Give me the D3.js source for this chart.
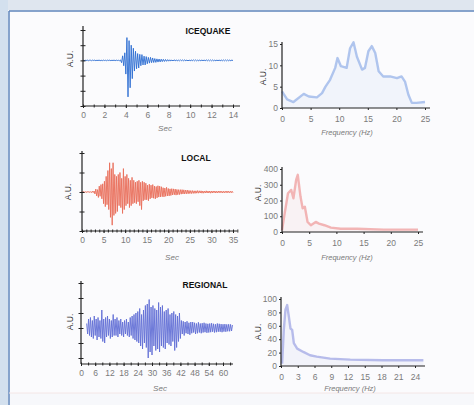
<!DOCTYPE html>
<html><head><meta charset="utf-8">
<script src="https://cdn.jsdelivr.net/npm/d3@7"></script>
<style>
html,body{margin:0;padding:0;background:#f7f8fb;}
svg{display:block;font-family:"Liberation Sans",Arial,sans-serif;}
</style></head>
<body><svg id="c" width="474" height="405"></svg>
<script>
// ---------- DATA ----------
const titles = ["ICEQUAKE", "LOCAL", "REGIONAL"];

const iceDt = 0.1;
const iceWave = [
 0.02,-0.02,0.01,-0.01,0.02,-0.02,0.01,0.01,-0.02,0.02,
 -0.01,0.02,-0.02,0.01,-0.01,0.02,-0.02,0.01,-0.02,0.02,
 -0.01,0.01,-0.02,0.02,-0.01,0.02,-0.02,0.01,-0.01,0.02,
 -0.02,0.02,-0.01,0.01,-0.02,0.03,
 -0.15,0.3,-0.35,0.5,-0.9,1.5,-2.4,1.3,-1.8,1.0,-1.2,0.8,-0.7,0.6,-0.55,
 0.45,-0.5,0.4,-0.35,0.38,-0.3,0.28,-0.3,0.25,-0.22,
 0.2,-0.18,0.2,-0.15,0.16,-0.14,0.12,-0.13,0.1,-0.11,
 0.09,-0.1,0.08,-0.08,0.07,-0.07,0.06,-0.06,0.05,-0.05,
 0.04,-0.04,0.03,-0.04,0.04,-0.03,0.03,-0.04,0.03,-0.03,
 0.04,-0.03,0.03,-0.03,0.04,-0.03,0.03,-0.04,0.03,-0.03,
 0.03,-0.03,0.04,-0.03,0.03,-0.03,0.03,-0.04,0.03,-0.03,
 0.03,-0.03,0.03,-0.03,0.04,-0.03,0.03,-0.03,0.03,-0.03,
 0.03,-0.03,0.03,-0.04,0.03,-0.03,0.03,-0.03,0.03,-0.03,
 0.03,-0.03,0.03,-0.03,0.03,-0.03,0.03,-0.03,0.03,-0.02
];

const localDt = 0.2;
const localWave = [
 0.03,-0.02,0.03,-0.03,0.02,-0.03,0.03,-0.02,0.03,-0.03,0.02,-0.03,0.04,-0.03,0.05,
 -0.1,0.15,-0.2,0.12,-0.28,0.3,-0.22,0.38,-0.35,0.42,
 -0.6,0.55,-0.75,0.8,-0.65,
 1.1,-0.9,1.5,-1.3,1.2,-1.7,1.5,-1.2,0.9,-1.1,
 0.8,-1.0,0.9,-0.7,1.0,-0.8,0.7,-1.1,1.2,-0.9,0.8,-0.7,0.9,-0.6,0.7,-0.8,0.6,-0.7,0.75,-0.6,
 0.6,-0.55,0.5,-0.6,0.55,-0.5,0.6,-0.7,0.5,-0.9,0.55,-0.45,0.5,-0.4,0.45,-0.4,0.35,-0.45,0.4,-0.35,
 0.35,-0.3,0.38,-0.32,0.3,-0.35,0.28,-0.3,0.32,-0.26,0.3,-0.25,0.27,-0.24,0.22,-0.25,0.2,-0.22,0.24,-0.2,
 0.18,-0.2,0.16,-0.18,0.17,-0.15,0.16,-0.14,0.15,-0.16,0.13,-0.14,0.12,-0.13,0.12,-0.11,0.12,-0.1,0.11,-0.1,0.1,-0.09,0.1,-0.09,0.08,
 -0.08,0.07,-0.08,0.07,-0.07,0.06,-0.07,0.06,-0.06,0.07,
 -0.06,0.06,-0.05,0.06,-0.06,0.05,-0.06,0.05,-0.05,0.06,
 -0.05,0.05,-0.05,0.05,-0.06,0.05,-0.05,0.05,-0.04,0.05,
 -0.05,0.04,-0.05,0.05,-0.04,0.05,-0.04,0.04,-0.05,0.04,
 -0.04,0.04,-0.04,0.05,-0.04,0.04,-0.04,0.04,-0.04,0.04,
 -0.04
];

const regDt = 0.4, regStart = 2.4;
const regWave = [
 0.3,-0.4,0.6,-0.5,0.7,-0.6,0.5,-0.7,0.8,-0.5,
 0.6,-0.8,0.7,-0.6,0.5,-0.7,1.2,-0.9,0.6,-1.0,
 0.7,-0.6,0.8,-0.5,0.6,-0.7,0.5,-0.6,0.9,-0.5,
 0.6,-0.5,0.7,-0.6,0.5,-0.4,0.6,-0.5,0.4,-0.6,
 0.5,-0.4,0.6,-0.5,0.4,-0.6,0.7,-0.5,0.8,-0.7,
 0.9,-0.8,1.0,-0.9,1.1,
 -1.0,1.3,-1.2,0.9,-1.4,1.2,-1.0,1.5,-1.3,1.6,
 -2.0,1.9,-1.6,1.4,-1.8,1.5,-1.2,1.3,-1.5,1.2,
 -1.4,1.7,-1.6,1.4,-1.2,1.5,-1.3,1.1,-1.4,1.2,
 -1.0,1.3,-1.1,0.9,-1.2,1.0,-0.9,1.1,-1.5,0.9,
 -1.3,0.8,-0.9,1.0,-0.7,
 0.5,-0.4,0.45,-0.5,0.4,-0.35,0.45,-0.4,0.35,-0.45,
 0.4,-0.35,0.4,-0.3,0.35,-0.4,0.3,-0.35,0.38,-0.3,
 0.3,-0.35,0.32,-0.3,0.35,-0.28,0.3,-0.32,0.28,-0.3,
 0.3,-0.28,0.32,-0.25,0.28,-0.3,0.25,-0.28,0.3,-0.25,
 0.28,-0.25,0.26,-0.28,0.25,-0.24,0.26,-0.25,0.24,-0.22,
 0.25,-0.22,0.24,-0.2,0.2
];

const iceFreq = [0,0.9,2,3.8,4.7,6.1,7,7.6,8.4,9.3,9.7,10.3,11.3,11.9,12.5,13.1,14,14.5,15.1,15.7,16.3,16.9,17.7,18.9,20.1,20.9,21.5,22.1,22.7,23.5,25];
const iceSpec = [3.9,2,1.4,3.3,2.7,2.5,3.5,5,6.6,9.4,11.7,9.8,9.4,14,15.4,12,9,9.4,13.3,14.5,12.9,8.6,7.4,7.4,7,7.4,6.2,3.1,1.2,1.2,1.4];

const localFreq = [0,0.5,1.1,1.7,2.1,2.6,2.9,3.4,3.8,4.2,4.7,5.3,6.2,6.8,7.8,9,10.8,13.8,18.7,25];
const localSpec = [10,120,246,267,214,331,363,225,150,160,64,43,64,53,43,28,21,21,15,15];

const regFreq = [0.2,0.5,0.8,1.1,1.4,1.7,2.0,2.3,2.9,4,5.2,6.4,8.8,12.4,18.3,25.5];
const regSpec = [3.5,54,84,91,74,56,54,34,26,21,16,14,11,9.5,8.5,8.5];

const iceSecTicks = [0,2,4,6,8,10,12,14];
const localSecTicks = [0,5,10,15,20,25,30,35];
const regSecTicks = [0,6,12,18,24,30,36,42,48,54,60];
const iceFreqTicks = [0,5,10,15,20,25];
const localFreqTicks = [0,5,10,15,20,25];
const regFreqTicks = [0,3,6,9,12,15,18,21,24];
const iceAmpTicks = [0,5,10,15];
const localAmpTicks = [0,100,200,300,400];
const regAmpTicks = [0,20,40,60,80,100];

// ---------- DRAW ----------
const svg = d3.select("#c");
// photo frame
svg.append("rect").attr("x",0).attr("y",0).attr("width",474).attr("height",10).attr("fill","#dfe6ef");
svg.append("rect").attr("x",0).attr("y",0).attr("width",8).attr("height",405).attr("fill","#d3e0ee");
svg.append("rect").attr("x",9).attr("y",11).attr("width",470).attr("height",382).attr("fill","#fbfbfd");
svg.append("line").attr("x1",9).attr("x2",474).attr("y1",11).attr("y2",11).attr("stroke","#5f86bb").attr("stroke-width",1.5);
svg.append("line").attr("x1",9).attr("x2",9).attr("y1",11).attr("y2",405).attr("stroke","#5f86bb").attr("stroke-width",1.5);
svg.append("line").attr("x1",9).attr("x2",474).attr("y1",393).attr("y2",393).attr("stroke","#f4e6e6").attr("stroke-width",1);

const LABEL = "#7a7a7a";

function styleAxis(g){
  g.select(".domain").remove();
  g.selectAll(".tick line").attr("stroke","#222").attr("stroke-width",1);
  g.selectAll(".tick text").attr("fill",LABEL).attr("font-size","8.5px");
}

function wavePanel(cfg){
  const x = d3.scaleLinear().domain(cfg.xDomain).range(cfg.xRange);
  const y = d3.scaleLinear().domain(cfg.yDomain).range(cfg.yRange);
  const g = svg.append("g");
  const y0 = cfg.yRange[0];
  const line = d3.line().x((d,i)=>x(cfg.start + i*cfg.dt)).y(d=>y(d));
  g.append("path").datum(cfg.data).attr("d",line).attr("fill","none")
    .attr("stroke",cfg.color).attr("stroke-width",1).attr("stroke-linejoin","round").attr("opacity",0.92);
  g.append("line").attr("x1",cfg.xRange[0]).attr("x2",cfg.axisEnd).attr("y1",y0).attr("y2",y0).attr("stroke","#222").attr("stroke-width",1.2);
  g.append("line").attr("x1",cfg.xRange[0]).attr("x2",cfg.xRange[0]).attr("y1",y0).attr("y2",cfg.yTop).attr("stroke","#222").attr("stroke-width",1.2);
  const minor = d3.range(cfg.xDomain[0], cfg.maxMinor + 1e-9, cfg.minorStep);
  g.append("g").attr("transform",`translate(0,${y0-1.5})`)
    .call(d3.axisBottom(x).tickValues(minor).tickSize(3).tickFormat(""))
    .call(styleAxis);
  g.append("g").attr("transform",`translate(0,${y0})`)
    .call(d3.axisBottom(x).tickValues(cfg.xTicks).tickSize(2).tickPadding(4).tickFormat(d3.format("d")))
    .call(styleAxis);
  g.append("g").attr("transform",`translate(${cfg.xRange[0]+2.5},0)`)
    .call(d3.axisLeft(y).tickValues(cfg.yTicks).tickSize(5).tickFormat(""))
    .call(styleAxis);
  g.append("text").attr("x",cfg.secX).attr("y",cfg.secY).attr("text-anchor","middle")
    .attr("font-size","8px").attr("font-style","italic").attr("fill",LABEL).text("Sec");
  g.append("text").attr("transform",`translate(${cfg.auX},${cfg.auY}) rotate(-90)`)
    .attr("text-anchor","middle").attr("font-size","8.5px").attr("fill","#333").text("A.U.");
  g.append("text").attr("x",cfg.titleX).attr("y",cfg.titleY).attr("text-anchor","middle")
    .attr("font-size","8.5px").attr("font-weight","bold").attr("fill","#111").text(cfg.title);
}

function specPanel(cfg){
  const x = d3.scaleLinear().domain(cfg.xDomain).range(cfg.xRange);
  const y = d3.scaleLinear().domain(cfg.yDomain).range(cfg.yRange);
  const g = svg.append("g");
  const y0 = cfg.yRange[0];
  const pts = cfg.freq.map((f,i)=>[f,cfg.amp[i]]);
  g.append("path").datum(pts)
    .attr("d",d3.area().x(d=>x(d[0])).y0(y0).y1(d=>y(d[1])))
    .attr("fill",cfg.color).attr("opacity",0.1);
  g.append("path").datum(pts)
    .attr("d",d3.line().x(d=>x(d[0])).y(d=>y(d[1])))
    .attr("fill","none").attr("stroke",cfg.color).attr("stroke-width",2.4)
    .attr("stroke-linejoin","round").attr("opacity",0.8);
  g.append("line").attr("x1",cfg.xRange[0]).attr("x2",cfg.axisEnd).attr("y1",y0).attr("y2",y0).attr("stroke","#222").attr("stroke-width",1.2);
  g.append("line").attr("x1",cfg.xRange[0]).attr("x2",cfg.xRange[0]).attr("y1",y0).attr("y2",cfg.yTop).attr("stroke","#222").attr("stroke-width",1.2);
  g.append("g").attr("transform",`translate(0,${y0})`)
    .call(d3.axisBottom(x).tickValues(cfg.xTicks).tickSize(2).tickPadding(6).tickFormat(d3.format("d")))
    .call(styleAxis);
  g.append("g").attr("transform",`translate(${cfg.xRange[0]},0)`)
    .call(d3.axisLeft(y).tickValues(cfg.yTicks).tickSize(2).tickPadding(2).tickFormat(d3.format("d")))
    .call(styleAxis);
  g.append("text").attr("x",cfg.fx).attr("y",cfg.fy).attr("text-anchor","middle")
    .attr("font-size","7.5px").attr("font-style","italic").attr("fill",LABEL).text("Frequency (Hz)");
  g.append("text").attr("transform",`translate(${cfg.auX},${cfg.auY}) rotate(-90)`)
    .attr("text-anchor","middle").attr("font-size","8.5px").attr("fill","#333").text("A.U.");
}

wavePanel({data:iceWave, dt:iceDt, start:0, color:"#2f6fd2",
  xDomain:[0,14], xRange:[83,233], yDomain:[-3,2], yRange:[106,30], yTicks:[-3,-2,-1,0,1,2],
  axisEnd:240, yTop:26, minorStep:1, maxMinor:14, xTicks:iceSecTicks,
  secX:165, secY:131, auX:73, auY:59, title:titles[0], titleX:208, titleY:34});
wavePanel({data:localWave, dt:localDt, start:0, color:"#e9705c",
  xDomain:[0,35], xRange:[82,233], yDomain:[-2,2], yRange:[231,153], yTicks:[-2,-1,0,1,2],
  axisEnd:237, yTop:151, minorStep:1, maxMinor:36, xTicks:localSecTicks,
  secX:172, secY:260, auX:71, auY:192, title:titles[1], titleX:196, titleY:161});
wavePanel({data:regWave, dt:regDt, start:regStart, color:"#6370d6",
  xDomain:[0,60], xRange:[81,223], yDomain:[-2.4,3], yRange:[364,283], yTicks:[-2,-1,0,1,2,3],
  axisEnd:233, yTop:281, minorStep:3, maxMinor:63, xTicks:regSecTicks,
  secX:160, secY:391, auX:73, auY:322, title:titles[2], titleX:205, titleY:288});

specPanel({freq:iceFreq, amp:iceSpec, color:"#9db8ea",
  xDomain:[0,25], xRange:[282,425], yDomain:[0,15], yRange:[108,44],
  axisEnd:430, yTop:42, xTicks:iceFreqTicks, yTicks:iceAmpTicks,
  fx:347, fy:135, auX:266, auY:77});
specPanel({freq:localFreq, amp:localSpec, color:"#f0a4a4",
  xDomain:[0,25], xRange:[282,418], yDomain:[0,400], yRange:[232,169],
  axisEnd:423, yTop:167, xTicks:localFreqTicks, yTicks:localAmpTicks,
  fx:347, fy:260, auX:261, auY:193});
specPanel({freq:regFreq, amp:regSpec, color:"#a6ace6",
  xDomain:[0,24], xRange:[281,415], yDomain:[0,100], yRange:[366,299],
  axisEnd:425, yTop:297, xTicks:regFreqTicks, yTicks:regAmpTicks,
  fx:350, fy:391, auX:261, auY:332});
</script></body></html>
